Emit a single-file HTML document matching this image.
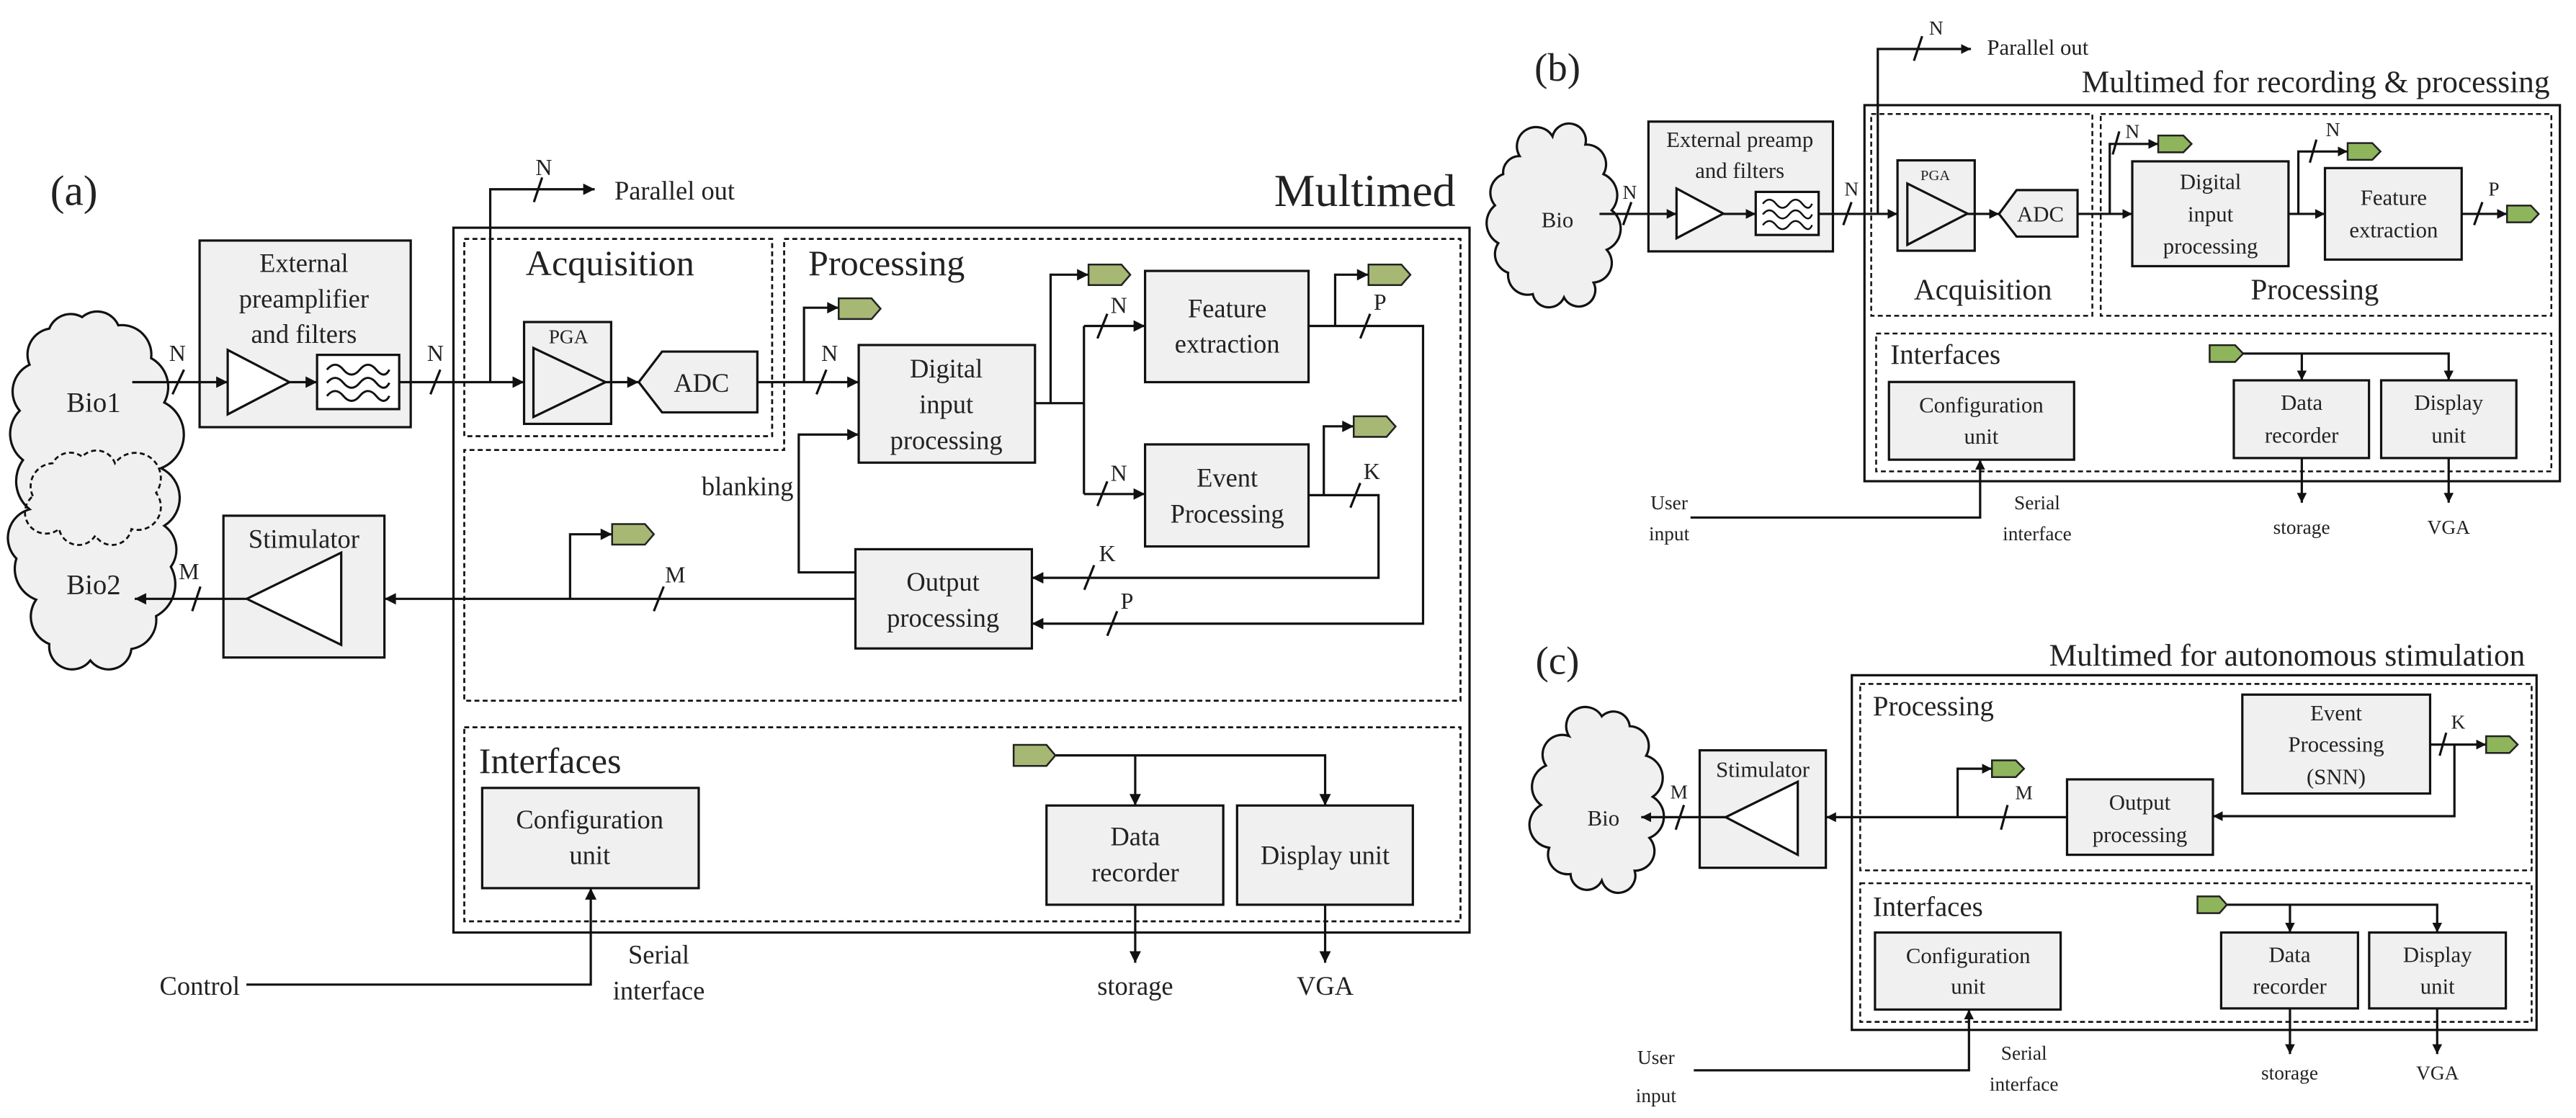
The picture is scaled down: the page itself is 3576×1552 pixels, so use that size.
<!DOCTYPE html>
<html><head><meta charset="utf-8"><style>html,body{margin:0;padding:0;background:#fff}svg{display:block}</style></head>
<body>
<svg xmlns="http://www.w3.org/2000/svg" width="3576" height="1552" viewBox="0 0 1568 680.5" font-family="Liberation Serif, serif" fill="#222">
<defs>
<marker id="ah" viewBox="0 0 10 10" refX="10" refY="5" markerWidth="7.5" markerHeight="7" markerUnits="userSpaceOnUse" orient="auto"><path d="M0,0 L10,5 L0,10z" fill="#111"/></marker>
<marker id="as" viewBox="0 0 10 10" refX="10" refY="5" markerWidth="6" markerHeight="6" markerUnits="userSpaceOnUse" orient="auto"><path d="M0,0 L10,5 L0,10z" fill="#111"/></marker>
</defs>
<rect x="0" y="0" width="1568" height="680.5" fill="#fff"/>

<g stroke="#111" stroke-width="1.4" fill="none">
<!-- ===================== (a) ===================== -->
<!-- cloud -->
<path d="M30,200 A14,14 0 0 1 50,193 A14,14 0 0 1 72,198 A18,18 0 0 1 92,218 A20,20 0 0 1 100,245 A22,22 0 0 1 98,285 A20,20 0 0 1 100,320 A18,18 0 0 1 104,345 A22,22 0 0 1 95,375 A18,18 0 0 1 80,395 A14,14 0 0 1 55,402 A14,14 0 0 1 30,392 A18,18 0 0 1 22,365 A20,20 0 0 1 10,340 A18,18 0 0 1 18,310 A22,22 0 0 1 14,280 A20,20 0 0 1 12,250 A18,18 0 0 1 18,222 A16,16 0 0 1 30,200 Z" fill="#f0f0f0"/>
<path d="M20,302 A14,14 0 0 1 32,282 A12,12 0 0 1 50,278 A12,12 0 0 1 70,282 A14,14 0 0 1 95,300 A14,14 0 0 1 80,322 A12,12 0 0 1 58,326 A12,12 0 0 1 36,322 A12,12 0 0 1 20,302 Z" stroke-dasharray="3 2" stroke-width="1.2"/>

<rect x="276" y="138.6" width="618.5" height="429" />
<rect x="282.6" y="145.4" width="187.4" height="120.1" stroke-dasharray="3 2" stroke-width="1.2"/>
<path d="M477.3,145.4 H889 V426.5 H282.6 V273.9 H477.3 Z" stroke-dasharray="3 2" stroke-width="1.2"/>
<rect x="282.6" y="442.7" width="606.4" height="118.1" stroke-dasharray="3 2" stroke-width="1.2"/>

<rect x="121.5" y="146.4" width="128.5" height="113.6" fill="#f0f0f0"/>
<polygon points="138.6,213 176.2,232.6 138.6,252.2" fill="#fff"/>
<rect x="193" y="216" width="50" height="33" fill="#fff"/>
<path d="M199,225 q5,-6 10,0 t10,0 t10,0 t8,0 M199,233 q5,-6 10,0 t10,0 t10,0 t8,0 M199,241 q5,-6 10,0 t10,0 t10,0 t8,0" stroke-width="1.3"/>

<path d="M80.5,232.6 H138.6" marker-end="url(#ah)"/>
<path d="M105,240 L112,225"/>
<path d="M176.2,232.6 H193" marker-end="url(#ah)"/>
<path d="M243,232.6 H319" marker-end="url(#ah)"/>
<path d="M262,240 L268,225"/>
<path d="M298.4,232.6 V115.2 H362" marker-end="url(#ah)"/>
<path d="M325,123 L330,108"/>

<rect x="319" y="196" width="53" height="62" fill="#f0f0f0"/>
<polygon points="324.7,211.8 368.6,232.6 324.7,253.8"/>
<path d="M368.6,232.6 H388.8" marker-end="url(#ah)"/>
<polygon points="388.8,232.6 403,214 461,214 461,251 403,251" fill="#f0f0f0"/>
<path d="M461,232.6 H522.7" marker-end="url(#ah)"/>
<path d="M497,240 L503,225"/>
<path d="M489.4,232.6 V187.3 H510.5" marker-end="url(#ah)"/>

<rect x="522.7" y="210" width="107.3" height="71.6" fill="#f0f0f0"/>
<path d="M630,245.4 H659.8 M659.8,198.4 V300.7"/>
<path d="M659.8,198.4 H697" marker-end="url(#ah)"/>
<path d="M659.8,300.7 H697" marker-end="url(#ah)"/>
<path d="M668,206 L674,191 M668,308 L674,293"/>
<path d="M639.5,245.4 V167.2 H662.6" marker-end="url(#ah)"/>

<rect x="697" y="164.9" width="99.5" height="67.7" fill="#f0f0f0"/>
<rect x="697" y="270.5" width="99.5" height="62.1" fill="#f0f0f0"/>
<path d="M796.5,198.4 H866.2 V379.6 H628.1" marker-end="url(#ah)"/>
<path d="M828,206 L834,191 M674,387 L680,372"/>
<path d="M812.7,198.4 V167.2 H833" marker-end="url(#ah)"/>
<path d="M796.5,301.4 H839.1 V351.7 H628.1" marker-end="url(#ah)"/>
<path d="M822,309 L828,294 M660,359 L666,344"/>
<path d="M805.8,301.4 V259.5 H824" marker-end="url(#ah)"/>

<rect x="520.7" y="334.3" width="107.4" height="60.4" fill="#f0f0f0"/>
<path d="M520.7,348.4 H486.2 V264.5 H522.7" marker-end="url(#ah)"/>
<path d="M520.7,364.5 H234" marker-end="url(#ah)"/>
<path d="M347,364.5 V325.2 H372.6" marker-end="url(#ah)"/>
<path d="M398,372 L404,357"/>

<rect x="136" y="313.9" width="98" height="86.3" fill="#f0f0f0"/>
<polygon points="150.2,364.5 207.7,336.4 207.7,392.5" fill="#fff"/>
<path d="M150.2,364.5 H82" marker-end="url(#ah)"/>
<path d="M117,372 L122,357"/>

<rect x="293.5" y="479.6" width="131.8" height="61" fill="#f0f0f0"/>
<path d="M150,599.3 H359.6 V540.6" marker-end="url(#ah)"/>
<path d="M642.4,459.8 H806.6 V490.3" marker-end="url(#ah)"/>
<path d="M691,459.8 V490.3" marker-end="url(#ah)"/>
<rect x="637" y="490.3" width="107.6" height="60.4" fill="#f0f0f0"/>
<rect x="753" y="490.3" width="107" height="60.4" fill="#f0f0f0"/>
<path d="M691,550.7 V586" marker-end="url(#ah)"/>
<path d="M806.6,550.7 V586" marker-end="url(#ah)"/>

<!-- ===================== (b) ===================== -->
<path d="M925,95 A10,10 0 0 1 945,83 A10,10 0 0 1 965,88 A12,12 0 0 1 976,106 A14,14 0 0 1 981,128 A14,14 0 0 1 978,152 A12,12 0 0 1 970,172 A10,10 0 0 1 952,181 A10,10 0 0 1 933,179 A12,12 0 0 1 918,166 A12,12 0 0 1 912,148 A14,14 0 0 1 910,125 A12,12 0 0 1 915,106 A10,10 0 0 1 925,95 Z" fill="#f0f0f0"/>
<rect x="1134.9" y="64" width="423.3" height="228.9"/>
<rect x="1139" y="69.4" width="134.6" height="122.8" stroke-dasharray="3 2" stroke-width="1.1"/>
<rect x="1278.7" y="69.4" width="274.3" height="122.8" stroke-dasharray="3 2" stroke-width="1.1"/>
<rect x="1142" y="203" width="411" height="83.9" stroke-dasharray="3 2" stroke-width="1.1"/>

<rect x="1003.4" y="74" width="112.3" height="79" fill="#f0f0f0"/>
<polygon points="1020.5,114.7 1049,130 1020.5,145" fill="#fff"/>
<rect x="1068.7" y="116.8" width="38.3" height="26.2" fill="#fff"/>
<path d="M1073,124 q4,-5 8,0 t8,0 t8,0 t6,0 M1073,130.5 q4,-5 8,0 t8,0 t8,0 t6,0 M1073,137 q4,-5 8,0 t8,0 t8,0 t6,0" stroke-width="1.1"/>
<path d="M973.6,130.2 H1020.5" marker-end="url(#as)"/>
<path d="M988,137 L993,123"/>
<path d="M1049,130.2 H1068.7" marker-end="url(#as)"/>
<path d="M1107,130.2 H1155" marker-end="url(#as)"/>
<path d="M1122,137 L1127,123"/>
<path d="M1143,130.2 V29.8 H1199.7" marker-end="url(#as)"/>
<path d="M1165,37 L1170,22"/>
<rect x="1155" y="97.6" width="47" height="55" fill="#f0f0f0"/>
<polygon points="1161,111.7 1197.6,130 1161,149"/>
<path d="M1197.6,130.2 H1216.8" marker-end="url(#as)"/>
<polygon points="1216.8,130.2 1227.5,115.7 1264.6,115.7 1264.6,144 1227.5,144" fill="#f0f0f0"/>
<path d="M1264.6,130.2 H1297.9" marker-end="url(#as)"/>
<path d="M1284.2,130.2 V87.6 H1313.7" marker-end="url(#as)"/>
<path d="M1286,94 L1290,80"/>
<rect x="1297.9" y="98.2" width="95.1" height="63.8" fill="#f0f0f0"/>
<path d="M1393,130.2 H1415.2" marker-end="url(#as)"/>
<path d="M1399,130.2 V92.2 H1429" marker-end="url(#as)"/>
<path d="M1406,99 L1410,85"/>
<rect x="1415.2" y="102.3" width="83.2" height="55.7" fill="#f0f0f0"/>
<path d="M1498.4,130.2 H1526" marker-end="url(#as)"/>
<path d="M1506,137 L1511,123"/>

<rect x="1149.8" y="232.5" width="112.7" height="47.3" fill="#f0f0f0"/>
<path d="M1029,315 H1205.3 V279.8" marker-end="url(#as)"/>
<path d="M1365.4,215.2 H1490.5 V231.5" marker-end="url(#as)"/>
<path d="M1401.1,215.2 V231.5" marker-end="url(#as)"/>
<rect x="1359.7" y="231.5" width="82.3" height="47.3" fill="#f0f0f0"/>
<rect x="1449.4" y="231.5" width="82.3" height="47.3" fill="#f0f0f0"/>
<path d="M1401.1,278.8 V306" marker-end="url(#as)"/>
<path d="M1490.5,278.8 V306" marker-end="url(#as)"/>

<!-- ===================== (c) ===================== -->
<path d="M955,448 A10,10 0 0 1 975,436 A10,10 0 0 1 992,442 A12,12 0 0 1 1002,460 A14,14 0 0 1 1006,485 A14,14 0 0 1 1004,510 A12,12 0 0 1 995,530 A10,10 0 0 1 975,536 A10,10 0 0 1 956,532 A12,12 0 0 1 943,516 A14,14 0 0 1 938,490 A14,14 0 0 1 941,466 A12,12 0 0 1 955,448 Z" fill="#f0f0f0"/>
<rect x="1127.2" y="411" width="416.8" height="215.9"/>
<rect x="1132.3" y="416.3" width="408.7" height="113.5" stroke-dasharray="3 2" stroke-width="1.1"/>
<rect x="1132.3" y="537.6" width="408.7" height="84.4" stroke-dasharray="3 2" stroke-width="1.1"/>

<rect x="1034.6" y="456.7" width="76.8" height="71.5" fill="#f0f0f0"/>
<polygon points="1050.4,497.4 1094.3,475.8 1094.3,520.3" fill="#fff"/>
<path d="M1258.2,497.4 H1111.6" marker-end="url(#as)"/>
<path d="M1050.4,497.4 H999" marker-end="url(#as)"/>
<path d="M1020,505 L1025,490"/>
<path d="M1191.6,497.4 V467.9 H1212.5" marker-end="url(#as)"/>
<path d="M1218,505 L1222,490"/>
<rect x="1258.2" y="474.4" width="88.8" height="45.9" fill="#f0f0f0"/>
<rect x="1364.9" y="422.8" width="114.3" height="60.2" fill="#f0f0f0"/>
<path d="M1479.2,453.2 H1513.3" marker-end="url(#as)"/>
<path d="M1485,460 L1489,446"/>
<path d="M1494,453.2 V496.8 H1347" marker-end="url(#as)"/>

<rect x="1141.3" y="567.6" width="113" height="46.9" fill="#f0f0f0"/>
<path d="M1031,651.5 H1198.5 V614.5" marker-end="url(#as)"/>
<path d="M1355.5,550.7 H1483.5 V567.6" marker-end="url(#as)"/>
<path d="M1393.9,550.7 V567.6" marker-end="url(#as)"/>
<rect x="1352" y="567.6" width="83.3" height="46.2" fill="#f0f0f0"/>
<rect x="1442.1" y="567.6" width="83.2" height="46.2" fill="#f0f0f0"/>
<path d="M1393.9,613.8 V641.6" marker-end="url(#as)"/>
<path d="M1483.5,613.8 V641.6" marker-end="url(#as)"/>
</g>

<!-- tags -->
<g stroke="#222" stroke-width="1.1">
<g fill="#a7b874">
<polygon points="510.5,181.6 530.5,181.6 536,187.9 530.5,194.2 510.5,194.2"/>
<polygon points="662.6,161 682.6,161 688,167.2 682.6,173.5 662.6,173.5"/>
<polygon points="833,161 853,161 858.5,167.2 853,173.5 833,173.5"/>
<polygon points="824,253.4 844,253.4 849.5,259.6 844,265.9 824,265.9"/>
<polygon points="372.6,319 392.6,319 398,325.2 392.6,331.5 372.6,331.5"/>
<polygon points="617,453.4 637,453.4 642.4,459.8 637,466.2 617,466.2"/>
</g>
<g fill="#8fb55c">
<polygon points="1313.7,82.5 1329,82.5 1334,87.6 1329,92.7 1313.7,92.7"/>
<polygon points="1429,87.1 1444,87.1 1449,92.2 1444,97.3 1429,97.3"/>
<polygon points="1526,125.1 1540.5,125.1 1545.3,130.2 1540.5,135.3 1526,135.3"/>
<polygon points="1345,210.1 1360.5,210.1 1365.4,215.2 1360.5,220.3 1345,220.3"/>
<polygon points="1212.5,462.8 1227,462.8 1232,467.9 1227,473 1212.5,473"/>
<polygon points="1513.3,448.1 1527.5,448.1 1532.5,453.2 1527.5,458.3 1513.3,458.3"/>
<polygon points="1337.6,545.6 1351,545.6 1355.5,550.7 1351,555.8 1337.6,555.8"/>
</g>
</g>

<!-- ===================== TEXT (a) ===================== -->
<g font-size="16" text-anchor="middle" dominant-baseline="central" fill="#222">
<text x="45" y="116" font-size="26">(a)</text>
<text x="886" y="116" font-size="28" text-anchor="end">Multimed</text>
<text x="320" y="160" font-size="22" text-anchor="start">Acquisition</text>
<text x="492" y="160" font-size="22" text-anchor="start">Processing</text>
<text x="291.5" y="463" font-size="22" text-anchor="start">Interfaces</text>
<text x="374" y="116" text-anchor="start">Parallel out</text>
<text x="331" y="102" font-size="14">N</text>
<text x="185" y="160">External</text>
<text x="185" y="181.7">preamplifier</text>
<text x="185" y="203.2">and filters</text>
<text x="108" y="215" font-size="14">N</text>
<text x="265" y="215" font-size="14">N</text>
<text x="346" y="205" font-size="12">PGA</text>
<text x="427" y="233">ADC</text>
<text x="505" y="215" font-size="14">N</text>
<text x="576" y="224.3">Digital</text>
<text x="576" y="246">input</text>
<text x="576" y="268">processing</text>
<text x="681" y="186" font-size="14">N</text>
<text x="681" y="288" font-size="14">N</text>
<text x="747" y="187.7">Feature</text>
<text x="747" y="209.1">extraction</text>
<text x="747" y="290.6">Event</text>
<text x="747" y="312.7">Processing</text>
<text x="840" y="184" font-size="14">P</text>
<text x="686" y="366" font-size="14">P</text>
<text x="835" y="287" font-size="14">K</text>
<text x="674" y="337" font-size="14">K</text>
<text x="574" y="354">Output</text>
<text x="574" y="376">processing</text>
<text x="483" y="296" text-anchor="end">blanking</text>
<text x="411" y="350" font-size="14">M</text>
<text x="115" y="348" font-size="14">M</text>
<text x="185" y="328">Stimulator</text>
<text x="57" y="245" font-size="17">Bio1</text>
<text x="57" y="356" font-size="17">Bio2</text>
<text x="359" y="498.7">Configuration</text>
<text x="359" y="520.5">unit</text>
<text x="146" y="600" text-anchor="end">Control</text>
<text x="401" y="581">Serial</text>
<text x="401" y="603">interface</text>
<text x="691" y="509">Data</text>
<text x="691" y="531">recorder</text>
<text x="806.6" y="520.5">Display unit</text>
<text x="691" y="600">storage</text>
<text x="806.6" y="600">VGA</text>
</g>

<!-- ===================== TEXT (b) ===================== -->
<g font-size="13.5" text-anchor="middle" dominant-baseline="central" fill="#222">
<text x="948" y="41" font-size="24">(b)</text>
<text x="1552" y="50" font-size="19" text-anchor="end">Multimed for recording &amp; processing</text>
<text x="1209.5" y="29" text-anchor="start">Parallel out</text>
<text x="1178.5" y="17" font-size="12">N</text>
<text x="948" y="134">Bio</text>
<text x="1059" y="85">External preamp</text>
<text x="1059" y="104">and filters</text>
<text x="992" y="117" font-size="12">N</text>
<text x="1127" y="115" font-size="12">N</text>
<text x="1178" y="107" font-size="9">PGA</text>
<text x="1242" y="130.5">ADC</text>
<text x="1298" y="80" font-size="12">N</text>
<text x="1420" y="79" font-size="12">N</text>
<text x="1518" y="115" font-size="12">P</text>
<text x="1345.5" y="110.7">Digital</text>
<text x="1345.5" y="130.4">input</text>
<text x="1345.5" y="150">processing</text>
<text x="1457" y="120.4">Feature</text>
<text x="1457" y="140">extraction</text>
<text x="1207" y="176" font-size="18">Acquisition</text>
<text x="1409" y="176" font-size="18">Processing</text>
<text x="1150.7" y="216" font-size="17" text-anchor="start">Interfaces</text>
<text x="1206" y="246.6">Configuration</text>
<text x="1206" y="265.7">unit</text>
<text x="1401" y="245">Data</text>
<text x="1401" y="265">recorder</text>
<text x="1490.5" y="245">Display</text>
<text x="1490.5" y="265">unit</text>
<text x="1016" y="306" font-size="12">User</text>
<text x="1016" y="325" font-size="12">input</text>
<text x="1240" y="306" font-size="12">Serial</text>
<text x="1240" y="325" font-size="12">interface</text>
<text x="1401" y="321" font-size="12">storage</text>
<text x="1490.5" y="321" font-size="12">VGA</text>
</g>

<!-- ===================== TEXT (c) ===================== -->
<g font-size="13.5" text-anchor="middle" dominant-baseline="central" fill="#222">
<text x="948" y="402" font-size="24">(c)</text>
<text x="1537" y="399" font-size="19" text-anchor="end">Multimed for autonomous stimulation</text>
<text x="1140" y="430" font-size="17" text-anchor="start">Processing</text>
<text x="1140" y="552" font-size="17" text-anchor="start">Interfaces</text>
<text x="976" y="498">Bio</text>
<text x="1073" y="468.5">Stimulator</text>
<text x="1022" y="482" font-size="12">M</text>
<text x="1232" y="482.6" font-size="12">M</text>
<text x="1302.5" y="488.5">Output</text>
<text x="1302.5" y="508.2">processing</text>
<text x="1422" y="434">Event</text>
<text x="1422" y="453.2">Processing</text>
<text x="1422" y="472.8">(SNN)</text>
<text x="1496.3" y="439.5" font-size="12">K</text>
<text x="1198" y="581.8">Configuration</text>
<text x="1198" y="600.4">unit</text>
<text x="1393.7" y="581.2">Data</text>
<text x="1393.7" y="600.4">recorder</text>
<text x="1483.7" y="581.2">Display</text>
<text x="1483.7" y="600.4">unit</text>
<text x="1008" y="643.6" font-size="12">User</text>
<text x="1008" y="667" font-size="12">input</text>
<text x="1232" y="641" font-size="12">Serial</text>
<text x="1232" y="660" font-size="12">interface</text>
<text x="1393.7" y="653" font-size="12">storage</text>
<text x="1483.7" y="653" font-size="12">VGA</text>
</g>
</svg>
</body></html>
